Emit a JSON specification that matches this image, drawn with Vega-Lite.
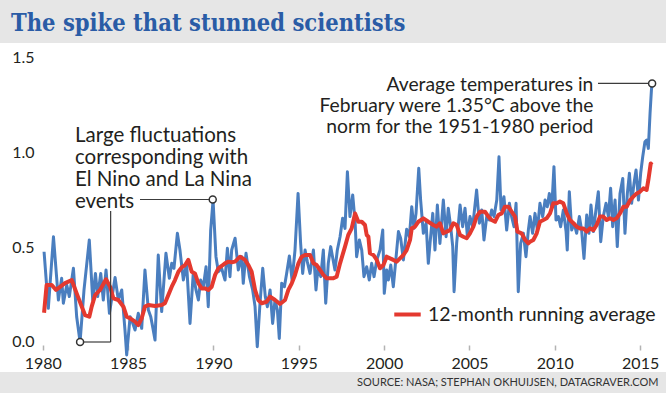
{
"$schema":"https://vega.github.io/schema/vega-lite/v6.json",
"width":666,"height":329,
"autosize":{"type":"none"},
"padding":{"top":43,"left":0,"right":0,"bottom":21},
"background":"#e6e6e6",
"view":{"fill":"#ffffff","stroke":null},
"config":{"font":"Lato"},
"title":{"text":"The spike that stunned scientists","anchor":"start","frame":"group","font":"DejaVu Serif Condensed, DejaVu Serif","fontSize":23.5,"fontWeight":"bold","color":"#2a5ca6","baseline":"alphabetic","offset":14,"dx":11,"dy":25},
"datasets":{
"blue":[
{"x":1980.08,"y":0.475},{"x":1980.33,"y":0.177},{"x":1980.63,"y":0.554},{"x":1980.92,"y":0.221},{"x":1981.11,"y":0.335},{"x":1981.21,"y":0.204},{"x":1981.41,"y":0.30},{"x":1981.56,"y":0.239},{"x":1981.80,"y":0.388},{"x":1981.99,"y":0.133},{"x":1982.19,"y":0.0},{"x":1982.42,"y":0.274},{"x":1982.73,"y":0.537},{"x":1982.93,"y":0.221},{"x":1983.09,"y":0.361},{"x":1983.22,"y":0.239},{"x":1983.40,"y":0.361},{"x":1983.55,"y":0.221},{"x":1983.71,"y":0.379},{"x":1983.91,"y":0.151},{"x":1984.24,"y":0.34},{"x":1984.43,"y":0.221},{"x":1984.63,"y":0.274},{"x":1984.82,"y":0.063},{"x":1984.92,"y":-0.068},{"x":1985.12,"y":0.133},
{"x":1985.21,"y":0.116},{"x":1985.41,"y":0.063},{"x":1985.60,"y":0.151},{"x":1985.80,"y":0.072},{"x":1985.99,"y":0.379},{"x":1986.19,"y":0.168},{"x":1986.33,"y":0.133},{"x":1986.44,"y":0.081},{"x":1986.58,"y":0.01},{"x":1986.77,"y":0.458},{"x":1986.97,"y":0.16},{"x":1987.22,"y":0.467},{"x":1987.42,"y":0.335},{"x":1987.56,"y":0.414},{"x":1987.69,"y":0.388},{"x":1987.89,"y":0.572},{"x":1988.04,"y":0.484},{"x":1988.24,"y":0.326},{"x":1988.43,"y":0.414},{"x":1988.63,"y":0.098},{"x":1988.82,"y":0.361},{"x":1988.98,"y":0.274},{"x":1989.12,"y":0.221},{"x":1989.25,"y":0.326},{"x":1989.41,"y":0.291},{"x":1989.57,"y":0.396},{"x":1989.70,"y":0.186},{"x":1989.84,"y":0.589},{"x":1989.98,"y":0.745},{"x":1990.15,"y":0.449},{"x":1990.29,"y":0.37},{"x":1990.48,"y":0.388},{"x":1990.68,"y":0.326},{"x":1990.82,"y":0.493},{"x":1990.97,"y":0.344},
{"x":1991.07,"y":0.484},{"x":1991.27,"y":0.546},{"x":1991.46,"y":0.379},{"x":1991.66,"y":0.449},{"x":1991.75,"y":0.309},{"x":1991.91,"y":0.467},{"x":1992.11,"y":0.344},{"x":1992.30,"y":0.274},{"x":1992.44,"y":0.186},{"x":1992.57,"y":-0.025},{"x":1992.73,"y":0.204},{"x":1992.89,"y":0.388},{"x":1993.04,"y":0.239},{"x":1993.16,"y":0.186},{"x":1993.32,"y":0.274},{"x":1993.47,"y":0.098},{"x":1993.61,"y":0.221},{"x":1993.75,"y":0.168},{"x":1993.86,"y":0.019},{"x":1994.0,"y":0.309},{"x":1994.16,"y":0.291},{"x":1994.29,"y":0.361},{"x":1994.45,"y":0.453},{"x":1994.61,"y":0.326},{"x":1994.78,"y":0.484},{"x":1994.96,"y":0.782},{"x":1995.11,"y":0.519},{"x":1995.23,"y":0.361},{"x":1995.37,"y":0.484},{"x":1995.50,"y":0.423},{"x":1995.66,"y":0.361},{"x":1995.86,"y":0.484},{"x":1996.01,"y":0.274},{"x":1996.13,"y":0.396},{"x":1996.29,"y":0.344},{"x":1996.44,"y":0.484},{"x":1996.58,"y":0.204},{"x":1996.73,"y":0.414},{"x":1996.87,"y":0.502},
{"x":1997.12,"y":0.379},{"x":1997.26,"y":0.484},{"x":1997.42,"y":0.554},{"x":1997.57,"y":0.651},{"x":1997.71,"y":0.598},{"x":1997.85,"y":0.896},{"x":1998.0,"y":0.66},{"x":1998.16,"y":0.774},{"x":1998.30,"y":0.633},{"x":1998.39,"y":0.449},{"x":1998.55,"y":0.537},{"x":1998.69,"y":0.484},{"x":1998.82,"y":0.344},{"x":1998.98,"y":0.396},{"x":1999.13,"y":0.326},{"x":1999.27,"y":0.414},{"x":1999.41,"y":0.344},{"x":1999.57,"y":0.432},{"x":1999.76,"y":0.484},{"x":1999.92,"y":0.589},{"x":2000.01,"y":0.256},{"x":2000.15,"y":0.379},{"x":2000.25,"y":0.326},{"x":2000.39,"y":0.405},{"x":2000.54,"y":0.291},{"x":2000.64,"y":0.388},{"x":2000.84,"y":0.581},{"x":2000.97,"y":0.546},{"x":2001.13,"y":0.432},{"x":2001.32,"y":0.593},{"x":2001.48,"y":0.554},{"x":2001.62,"y":0.712},{"x":2001.75,"y":0.598},{"x":2001.87,"y":0.677},{"x":2002.03,"y":0.914},{"x":2002.14,"y":0.747},{"x":2002.30,"y":0.572},{"x":2002.46,"y":0.625},{"x":2002.59,"y":0.414},
{"x":2002.69,"y":0.519},{"x":2002.85,"y":0.677},{"x":2002.98,"y":0.484},{"x":2003.12,"y":0.721},{"x":2003.27,"y":0.519},{"x":2003.47,"y":0.747},{"x":2003.63,"y":0.554},{"x":2003.76,"y":0.704},{"x":2003.90,"y":0.607},{"x":2004.02,"y":0.502},{"x":2004.10,"y":0.265},{"x":2004.25,"y":0.519},{"x":2004.45,"y":0.721},{"x":2004.60,"y":0.607},{"x":2004.74,"y":0.704},{"x":2004.88,"y":0.554},{"x":2005.03,"y":0.66},{"x":2005.19,"y":0.607},{"x":2005.42,"y":0.80},{"x":2005.58,"y":0.625},{"x":2005.72,"y":0.695},{"x":2005.85,"y":0.537},{"x":2006.01,"y":0.66},{"x":2006.17,"y":0.642},{"x":2006.30,"y":0.695},{"x":2006.44,"y":0.66},{"x":2006.60,"y":0.747},{"x":2006.73,"y":0.975},{"x":2006.85,"y":0.695},{"x":2007.02,"y":0.765},{"x":2007.18,"y":0.589},{"x":2007.34,"y":0.73},{"x":2007.47,"y":0.66},{"x":2007.61,"y":0.607},{"x":2007.73,"y":0.73},{"x":2007.86,"y":0.265},{"x":2008.0,"y":0.519},{"x":2008.16,"y":0.572},{"x":2008.31,"y":0.449},{"x":2008.45,"y":0.589},
{"x":2008.55,"y":0.66},{"x":2008.70,"y":0.572},{"x":2008.84,"y":0.677},{"x":2008.98,"y":0.589},{"x":2009.13,"y":0.73},{"x":2009.29,"y":0.66},{"x":2009.43,"y":0.747},{"x":2009.56,"y":0.712},{"x":2009.68,"y":0.782},{"x":2009.82,"y":0.704},{"x":2009.95,"y":0.923},{"x":2010.07,"y":0.642},{"x":2010.21,"y":0.66},{"x":2010.34,"y":0.607},{"x":2010.50,"y":0.695},{"x":2010.66,"y":0.581},{"x":2010.73,"y":0.484},{"x":2010.85,"y":0.791},{"x":2010.99,"y":0.589},{"x":2011.13,"y":0.625},{"x":2011.28,"y":0.572},{"x":2011.44,"y":0.66},{"x":2011.57,"y":0.589},{"x":2011.71,"y":0.44},{"x":2011.87,"y":0.668},{"x":2012.0,"y":0.572},{"x":2012.12,"y":0.721},{"x":2012.26,"y":0.581},{"x":2012.41,"y":0.695},{"x":2012.55,"y":0.791},{"x":2012.69,"y":0.528},{"x":2012.84,"y":0.66},{"x":2013.0,"y":0.73},{"x":2013.14,"y":0.66},{"x":2013.27,"y":0.809},{"x":2013.39,"y":0.607},{"x":2013.53,"y":0.747},{"x":2013.66,"y":0.502},{"x":2013.82,"y":0.782},{"x":2013.98,"y":0.861},{"x":2014.11,"y":0.572},{"x":2014.25,"y":0.782},{"x":2014.37,"y":0.888},{"x":2014.50,"y":0.73},{"x":2014.64,"y":0.835},{"x":2014.76,"y":0.905},{"x":2014.90,"y":0.747},{"x":2015.03,"y":0.888},{"x":2015.15,"y":0.975},{"x":2015.28,"y":1.054},{"x":2015.38,"y":1.063},{"x":2015.48,"y":1.019},{"x":2015.58,"y":1.204},{"x":2015.66,"y":1.326},{"x":2015.70,"y":1.361}
],
"red":[
{"x":1980.08,"y":0.154},{"x":1980.23,"y":0.30},{"x":1980.53,"y":0.30},{"x":1980.78,"y":0.274},{"x":1981.02,"y":0.29},{"x":1981.31,"y":0.31},{"x":1981.70,"y":0.326},{"x":1981.99,"y":0.256},{"x":1982.29,"y":0.186},{"x":1982.48,"y":0.142},{"x":1982.73,"y":0.133},{"x":1982.87,"y":0.186},{"x":1983.07,"y":0.247},{"x":1983.36,"y":0.274},{"x":1983.71,"y":0.33},{"x":1983.95,"y":0.29},{"x":1984.14,"y":0.23},{"x":1984.43,"y":0.221},{"x":1984.73,"y":0.186},{"x":1984.92,"y":0.133},
{"x":1985.11,"y":0.125},{"x":1985.41,"y":0.107},{"x":1985.60,"y":0.089},{"x":1985.80,"y":0.125},{"x":1985.99,"y":0.186},{"x":1986.19,"y":0.195},{"x":1986.58,"y":0.19},{"x":1986.97,"y":0.195},{"x":1987.16,"y":0.204},{"x":1987.36,"y":0.247},{"x":1987.56,"y":0.291},{"x":1987.75,"y":0.326},{"x":1987.95,"y":0.37},{"x":1988.14,"y":0.393},{"x":1988.34,"y":0.405},{"x":1988.53,"y":0.432},{"x":1988.73,"y":0.37},{"x":1988.92,"y":0.361},{"x":1989.12,"y":0.309},{"x":1989.31,"y":0.282},{"x":1989.51,"y":0.282},{"x":1989.70,"y":0.274},{"x":1989.90,"y":0.291},{"x":1990.10,"y":0.353},{"x":1990.29,"y":0.388},{"x":1990.48,"y":0.40},{"x":1990.68,"y":0.414},{"x":1990.88,"y":0.423},
{"x":1991.07,"y":0.42},{"x":1991.27,"y":0.423},{"x":1991.56,"y":0.449},{"x":1991.85,"y":0.432},{"x":1992.05,"y":0.405},{"x":1992.24,"y":0.37},{"x":1992.44,"y":0.274},{"x":1992.63,"y":0.221},{"x":1992.83,"y":0.204},{"x":1993.12,"y":0.212},{"x":1993.32,"y":0.239},{"x":1993.61,"y":0.221},{"x":1993.90,"y":0.20},{"x":1994.20,"y":0.221},{"x":1994.39,"y":0.274},{"x":1994.59,"y":0.309},{"x":1994.78,"y":0.353},{"x":1994.98,"y":0.414},{"x":1995.17,"y":0.449},{"x":1995.37,"y":0.458},{"x":1995.66,"y":0.458},{"x":1995.86,"y":0.414},{"x":1996.05,"y":0.405},{"x":1996.25,"y":0.379},{"x":1996.44,"y":0.353},{"x":1996.64,"y":0.335},{"x":1996.83,"y":0.335},
{"x":1997.03,"y":0.335},{"x":1997.22,"y":0.344},{"x":1997.42,"y":0.414},{"x":1997.71,"y":0.502},{"x":1997.90,"y":0.563},{"x":1998.10,"y":0.598},{"x":1998.30,"y":0.677},{"x":1998.49,"y":0.633},{"x":1998.69,"y":0.633},{"x":1998.88,"y":0.616},{"x":1998.98,"y":0.563},{"x":1999.08,"y":0.554},{"x":1999.17,"y":0.467},{"x":1999.37,"y":0.458},{"x":1999.57,"y":0.432},{"x":1999.76,"y":0.388},{"x":1999.96,"y":0.405},{"x":2000.15,"y":0.449},{"x":2000.35,"y":0.44},{"x":2000.54,"y":0.432},{"x":2000.74,"y":0.423},{"x":2000.93,"y":0.44},{"x":2001.13,"y":0.458},{"x":2001.32,"y":0.484},{"x":2001.52,"y":0.537},{"x":2001.62,"y":0.598},{"x":2001.81,"y":0.607},{"x":2002.01,"y":0.633},{"x":2002.30,"y":0.651},{"x":2002.59,"y":0.633},
{"x":2002.88,"y":0.616},{"x":2003.08,"y":0.607},{"x":2003.27,"y":0.625},{"x":2003.47,"y":0.572},{"x":2003.67,"y":0.581},{"x":2003.86,"y":0.589},{"x":2004.06,"y":0.625},{"x":2004.25,"y":0.616},{"x":2004.45,"y":0.563},{"x":2004.64,"y":0.554},{"x":2004.84,"y":0.546},{"x":2005.03,"y":0.572},{"x":2005.23,"y":0.607},{"x":2005.42,"y":0.66},{"x":2005.62,"y":0.686},{"x":2005.91,"y":0.686},{"x":2006.11,"y":0.66},{"x":2006.30,"y":0.642},{"x":2006.50,"y":0.633},{"x":2006.69,"y":0.668},{"x":2006.89,"y":0.677},{"x":2007.08,"y":0.712},{"x":2007.28,"y":0.712},{"x":2007.47,"y":0.686},{"x":2007.67,"y":0.66},{"x":2007.81,"y":0.581},{"x":2008.06,"y":0.572},{"x":2008.26,"y":0.537},{"x":2008.45,"y":0.519},
{"x":2008.55,"y":0.528},{"x":2008.74,"y":0.537},{"x":2008.94,"y":0.572},{"x":2009.13,"y":0.633},{"x":2009.33,"y":0.642},{"x":2009.52,"y":0.651},{"x":2009.72,"y":0.677},{"x":2009.91,"y":0.73},{"x":2010.11,"y":0.73},{"x":2010.30,"y":0.739},{"x":2010.50,"y":0.73},{"x":2010.70,"y":0.677},{"x":2010.89,"y":0.642},{"x":2011.09,"y":0.625},{"x":2011.28,"y":0.607},{"x":2011.48,"y":0.598},{"x":2011.67,"y":0.598},{"x":2011.87,"y":0.581},{"x":2012.06,"y":0.598},{"x":2012.26,"y":0.589},{"x":2012.45,"y":0.616},{"x":2012.65,"y":0.66},{"x":2012.84,"y":0.66},{"x":2013.04,"y":0.642},{"x":2013.23,"y":0.651},{"x":2013.43,"y":0.642},{"x":2013.62,"y":0.651},{"x":2013.82,"y":0.677},{"x":2014.02,"y":0.712},{"x":2014.21,"y":0.712},{"x":2014.41,"y":0.747},{"x":2014.60,"y":0.765},{"x":2014.80,"y":0.782},{"x":2014.99,"y":0.791},{"x":2015.19,"y":0.809},{"x":2015.38,"y":0.80},{"x":2015.48,"y":0.853},{"x":2015.62,"y":0.94},{"x":2015.68,"y":0.932}
],
"lead":[
{"x":1982.19,"x2":1983.98,"y":0,"y2":0},
{"x":1983.98,"x2":1983.98,"y":0,"y2":0.69},
{"x":1985.70,"x2":1989.96,"y":0.75,"y2":0.75},
{"x":2012.53,"x2":2015.70,"y":1.361,"y2":1.361}
],
"dots":[
{"x":1982.19,"y":0},{"x":1989.96,"y":0.75},{"x":2015.70,"y":1.361}
],
"noteL":[{"x":1981.89,"y":1.052,"t":["Large fluctuations","corresponding with","El Nino and La Nina","events"]}],
"noteR":[{"x":2012.26,"y":1.3215,"t":["Average temperatures in","February were 1.35°C above the","norm for the 1951-1980 period"]}]
},
"encoding":{
"x":{"field":"x","type":"quantitative",
 "scale":{"domain":[1977.4986,2016.514],"nice":false,"zero":false},
 "axis":{"values":[1980,1985,1990,1995,2000,2005,2010,2015],"format":"d","orient":"bottom","offset":-27,"domain":false,"grid":false,"ticks":true,"tickSize":5,"tickColor":"#b3b3b3","tickWidth":1.5,"labelFontSize":16,"labelFont":"Lato","labelColor":"#231f20","labelPadding":5,
  "title":"SOURCE: NASA; STEPHAN OKHUIJSEN, DATAGRAVER.COM","titleFont":"Lato","titleFontSize":11,"titleFontWeight":"normal","titleColor":"#333333","titleAnchor":"end","titleAlign":"right","titleBaseline":"alphabetic","titleX":658,"titleY":40}},
"y":{"field":"y","type":"quantitative",
 "scale":{"domain":[-0.1579,1.5737],"nice":false,"zero":false},
 "axis":{"values":[0,0.5,1,1.5],"format":".1f","orient":"left","offset":-38,"domain":false,"ticks":false,"grid":false,"labelFontSize":16,"labelFont":"Lato","labelColor":"#231f20","labelPadding":4,"title":null}}
},
"layer":[
{"data":{"values":[{"y":0},{"y":0.5},{"y":1},{"y":1.5}]},
 "mark":{"type":"rule","color":"#c8c8c8","strokeWidth":1.5},
 "encoding":{"x":{"datum":1979.72,"type":"quantitative"},"x2":{"datum":2015.93}}},
{"data":{"name":"blue"},"mark":{"type":"line","color":"#4a7ebf","strokeWidth":3,"strokeJoin":"round"},"encoding":{}},
{"data":{"name":"red"},"mark":{"type":"line","strokeWidth":4,"strokeJoin":"round"},
 "encoding":{"color":{"datum":"12-month running average","type":"nominal","scale":{"range":["#e4392f"]},
  "legend":{"title":null,"orient":"none","legendX":392,"legendY":256,"symbolType":"stroke","symbolSize":700,"symbolStrokeWidth":4,"labelFontSize":19.5,"labelFont":"Lato","labelColor":"#231f20","labelOffset":5,"labelLimit":0,"padding":0}}}},
{"data":{"name":"lead"},"mark":{"type":"rule","color":"#3c3c3c","strokeWidth":1.2},"encoding":{"x2":{"field":"x2"},"y2":{"field":"y2"}}},
{"data":{"name":"dots"},"mark":{"type":"point","shape":"circle","filled":true,"fill":"#ffffff","stroke":"#333333","strokeWidth":1.5,"size":49,"opacity":1}},
{"data":{"name":"noteL"},"mark":{"type":"text","align":"left","baseline":"alphabetic","fontSize":20.5,"lineHeight":22,"font":"Lato","color":"#231f20"},"encoding":{"text":{"field":"t"}}},
{"data":{"name":"noteR"},"mark":{"type":"text","align":"right","baseline":"alphabetic","fontSize":19.3,"lineHeight":21,"font":"Lato","color":"#231f20"},"encoding":{"text":{"field":"t"}}}
]
}
